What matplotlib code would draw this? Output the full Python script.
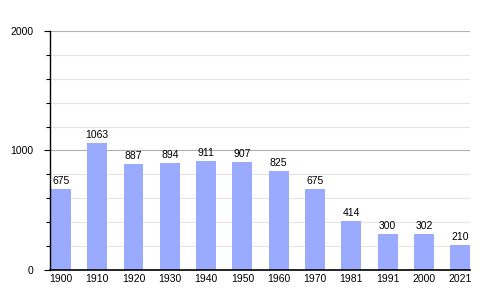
import matplotlib.pyplot as plt
import numpy as np

plt.rcParams['font.family'] = ['Liberation Sans', 'DejaVu Sans']

years = ['1900', '1910', '1920', '1930', '1940', '1950', '1960', '1970', '1981', '1991', '2000', '2021']
population = [675, 1063, 887, 894, 911, 907, 825, 675, 414, 300, 302, 210]

fig = plt.figure(figsize=(5, 3), dpi=100)
ax = fig.add_axes([0.1, 0.1, 0.84, 0.797])

x = np.arange(len(years))
ax.bar(x, population, width=0.55, color='#99aaff', zorder=2)
for xi, v in zip(x, population):
    ax.text(xi, v + 25, str(v), ha='center', va='bottom', fontsize=7.5, color='black')

ax.set_xlim(-0.3, 11.27)
ax.set_ylim(0, 2000)
ax.set_yticks([0, 1000, 2000])
ax.set_yticks(np.arange(0, 2001, 200), minor=True)
ax.set_xticks(x)
ax.set_xticklabels(years)
ax.tick_params(axis='both', labelsize=7.5, colors='black')
ax.tick_params(axis='x', length=0, pad=3)
ax.tick_params(axis='y', which='major', length=4, width=0.8, pad=8)
ax.tick_params(axis='y', which='minor', length=3, width=0.8)

ax.grid(axis='y', which='major', color='#b0b0b0', linewidth=0.8, zorder=0)
ax.grid(axis='y', which='minor', color='#e4e4e4', linewidth=0.8, zorder=0)
ax.set_axisbelow(True)

for s in ['top', 'right']:
    ax.spines[s].set_visible(False)
ax.spines['left'].set_linewidth(1)
ax.spines['bottom'].set_linewidth(1.2)

fig.savefig('out.png', dpi=100)
